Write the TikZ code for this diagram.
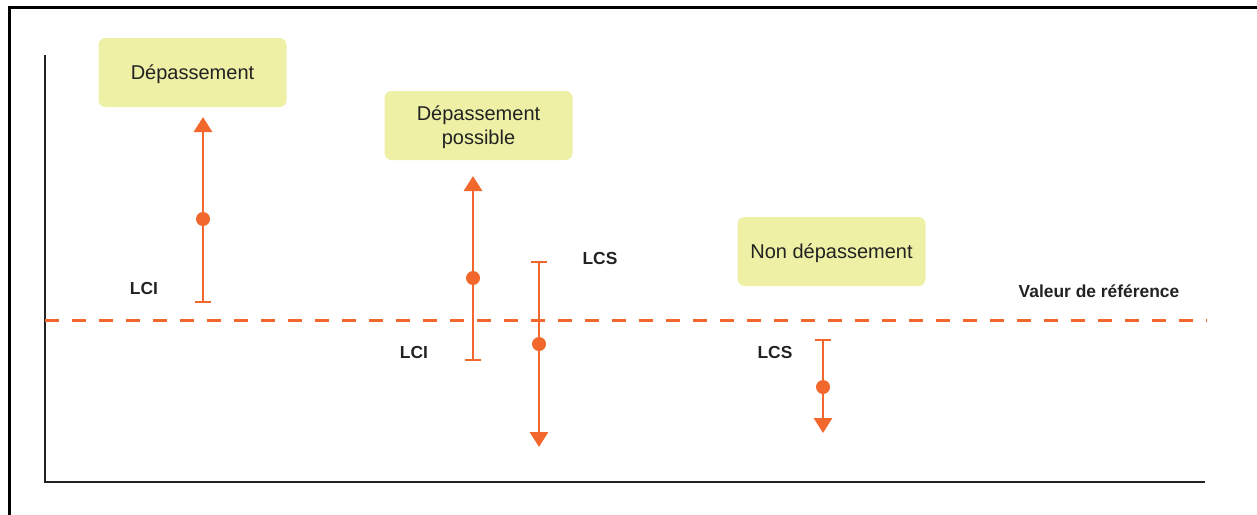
\documentclass[tikz,border=0pt]{standalone}
\usepackage{fontspec}
\setmainfont{Liberation Sans}
\usetikzlibrary{arrows.meta}
\definecolor{orng}{RGB}{242,104,44}
\definecolor{boxfill}{RGB}{238,240,166}
\definecolor{ink}{RGB}{34,34,34}
\tikzset{
  x=1pt, y={(0,-1pt)},
  labelbox/.style={fill=boxfill, rounded corners=7pt, minimum width=188pt, minimum height=69pt,
    inner sep=0pt, align=center, text=ink, text depth=0pt, font=\fontsize{20}{24}\selectfont},
  lbl/.style={text=ink, font=\fontsize{17.4}{20}\selectfont\bfseries, inner sep=0pt},
  errbar/.style={draw=orng, line width=2.9pt},
  uptip/.style={-{Triangle[width=18pt,length=15pt]}},
  captip/.style={-{Bar[width=16pt,line width=2.3pt]}},
  dot/.style={circle, fill=orng, minimum size=14pt, inner sep=0pt},
  axis/.style={draw=ink, line width=2.6pt},
  refline/.style={draw=orng, line width=3pt, dash pattern=on 14pt off 13pt},
}
\begin{document}
\begin{tikzpicture}
\useasboundingbox (0,0) rectangle (1257,514);
% outer frame (cropped)
\coordinate (fl) at (9,514);
\coordinate (ftl) at (9,7);
\coordinate (ftr) at (1257,7);
\draw[line width=3pt, line cap=rect] (fl) -- (ftl) -- (ftr);
% axes
\coordinate (ytop) at (45,55);
\coordinate (orig) at (45,482);
\coordinate (xend) at (1205,482);
\draw[axis] (ytop) -- (orig) -- (xend);
% reference line
\coordinate (r0) at (45,320);
\coordinate (r1) at (1207,320);
\draw[refline] (r0) -- (r1);
\node[lbl] (ref) at (1099,291) {Valeur de référence};
% boxes
\node[labelbox] (b1) at (192.5,72.5) {Dépassement};
\node[labelbox] (b2) at (478.5,125.5) {Dépassement\\possible};
\node[labelbox] (b3) at (831.5,251.5) {Non dépassement};
% bar 1
\coordinate (a1t) at (203,117);
\coordinate (a1b) at (203,303);
\node[dot] (d1) at (203,219) {};
\draw[errbar, uptip] (a1b) -- (a1t);
\draw[errbar, captip] (d1.center) -- (a1b);
\node[lbl] (lci1) at (144,289) {LCI};
% bar 2
\coordinate (a2t) at (473,176);
\coordinate (a2b) at (473,361);
\node[dot] (d2) at (473,278) {};
\draw[errbar, uptip] (a2b) -- (a2t);
\draw[errbar, captip] (d2.center) -- (a2b);
\node[lbl] (lci2) at (414,353) {LCI};
% bar 3
\coordinate (a3t) at (539,261);
\coordinate (a3b) at (539,447);
\node[dot] (d3) at (539,344) {};
\draw[errbar, uptip] (a3t) -- (a3b);
\draw[errbar, captip] (d3.center) -- (a3t);
\node[lbl] (lcs3) at (600,259) {LCS};
% bar 4
\coordinate (a4t) at (823,339);
\coordinate (a4b) at (823,433);
\node[dot] (d4) at (823,387) {};
\draw[errbar, uptip] (a4t) -- (a4b);
\draw[errbar, captip] (d4.center) -- (a4t);
\node[lbl] (lcs4) at (775,353) {LCS};
\end{tikzpicture}
\end{document}
